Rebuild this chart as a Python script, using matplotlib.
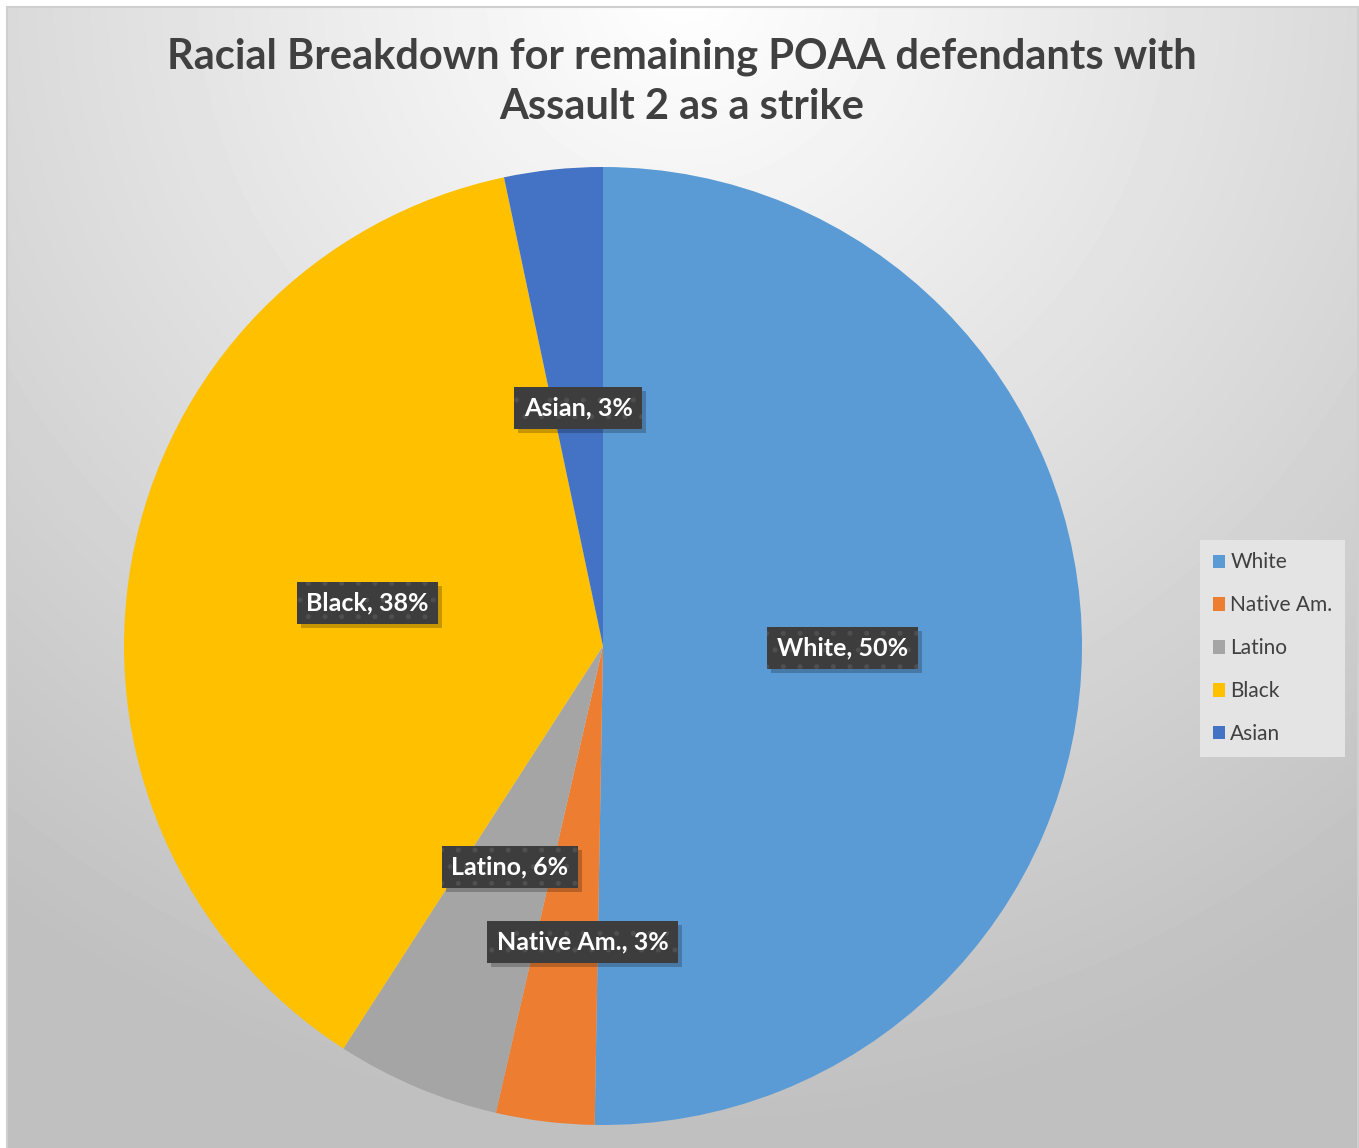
import numpy as np
import matplotlib.pyplot as plt
from matplotlib.patches import Rectangle
from matplotlib.transforms import IdentityTransform

# defendant counts by race
races = ['White', 'Native Am.', 'Latino', 'Black', 'Asian']
counts = [91, 6, 10, 68, 6]
colors = ['#5B9BD5', '#ED7D31', '#A5A5A5', '#FFC000', '#4472C4']
title = 'Racial Breakdown for remaining POAA defendants with\nAssault 2 as a strike'

plt.rcParams['font.family'] = ['Lato', 'DejaVu Sans']
plt.rcParams['hatch.linewidth'] = 1.2

W, H = 1359, 1148
fig = plt.figure(figsize=(W / 100, H / 100), dpi=100)

# chart area background: radial grey gradient from the top centre
bg = fig.add_axes([7 / W, 0, 1350 / W, 1 - 7 / H])
bg.set_axis_off()
yy, xx = np.mgrid[0:1141, 0:1350]
d = np.sqrt((xx - 675) ** 2 + (yy + 20) ** 2) / 1150
d = np.clip(d, 0, 1)
shade = 1.0 - 0.25 * d
bg.imshow(shade, cmap='gray', vmin=0, vmax=1, aspect='auto', interpolation='bilinear')
fig.patches.append(Rectangle((6.5 / W, -0.01), 1351 / W, 1 + 0.01 - 6.5 / H,
                             transform=fig.transFigure, fill=False,
                             edgecolor='#cfcfcf', linewidth=1.5))

fig.text(682 / W, 1 - 82 / H, title, ha='center', va='center', fontsize=30,
         fontweight='bold', color='#404040', linespacing=1.4)

# pie
cx, cy, r = 603, 646, 479
ax = fig.add_axes([(cx - r) / W, (H - cy - r) / H, 2 * r / W, 2 * r / H])
wedges, _ = ax.pie(counts, colors=colors, startangle=90, counterclock=False,
                   radius=1.0, wedgeprops=dict(linewidth=0))
ax.set_xlim(-1, 1)
ax.set_ylim(-1, 1)
ax.set_aspect('auto')
ax.set_axis_off()

# data labels: dark dotted boxes
total = sum(counts)
label_r = [0.5, 0.62, 0.5, 0.5, 0.5]
label_shift = [0, 3.0, 0, 0, 0]
labels = []
for w, name, n, lr, sh in zip(wedges, races, counts, label_r, label_shift):
    mid = np.deg2rad((w.theta1 + w.theta2) / 2 + sh)
    x, y = lr * np.cos(mid), lr * np.sin(mid)
    t = ax.text(x, y, f'{name}, {round(100 * n / total)}%', ha='center', va='center',
                fontsize=18, fontweight='bold', color='white', zorder=5,
                bbox=dict(boxstyle='square,pad=0.38', facecolor='#3d3d3d',
                          edgecolor='#4f4f4f', linewidth=0, hatch='.'))
    labels.append(t)

# drop shadows behind the label boxes
fig.canvas.draw()
for t in labels:
    bb = t.get_bbox_patch().get_window_extent()
    ax.add_patch(Rectangle((bb.x0 + 4, bb.y0 - 4), bb.width, bb.height,
                           transform=IdentityTransform(), facecolor='black',
                           alpha=0.22, edgecolor='none', zorder=4))

leg = fig.legend(wedges, races, loc='upper left',
                 bbox_to_anchor=(1200 / W, 1 - 540 / H), fontsize=15,
                 frameon=True, fancybox=False, framealpha=1,
                 facecolor='#e4e4e4', edgecolor='none',
                 handlelength=0.6, handleheight=0.6, handletextpad=0.25,
                 labelspacing=1.1, borderpad=0.6, borderaxespad=0)
for txt in leg.get_texts():
    txt.set_color('#404040')

fig.savefig('out.png', dpi=100)
